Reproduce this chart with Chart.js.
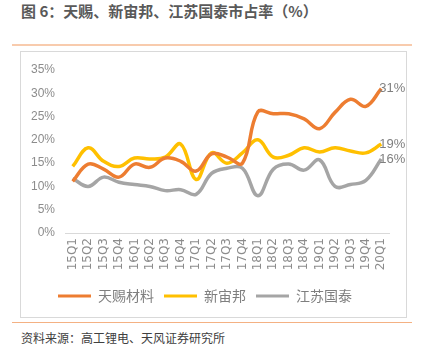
<!DOCTYPE html>
<html><head><meta charset="utf-8">
<script src="https://cdn.jsdelivr.net/npm/chart.js@4.4.1/dist/chart.umd.min.js"></script>
<style>
html,body{margin:0;padding:0;background:#fff;width:426px;height:353px;overflow:hidden;font-family:"Noto Sans CJK SC","Noto Sans",sans-serif;}
#title{position:absolute;left:21px;top:0px;font-size:15px;color:#595959;font-weight:bold;line-height:22px;}
#topline{position:absolute;left:12px;top:44px;width:400px;height:2px;background:#f8cbad;}
#box{position:absolute;left:20px;top:51px;width:385px;height:265px;border:1px solid #d9d9d9;}
#botline{position:absolute;left:12px;top:322px;width:400px;height:1px;background:#f4b183;}
#src{position:absolute;left:21px;top:329px;font-size:12px;color:#404040;line-height:18px;}
</style></head><body>
<div id="title">图 6：天赐、新宙邦、江苏国泰市占率（%）</div>
<div id="topline"></div>
<div id="box"><canvas id="c" width="385" height="265"></canvas></div>
<div id="botline"></div>
<div id="src">资料来源：高工锂电、天风证券研究所</div>
<script>
const categories = ["15Q1","15Q2","15Q3","15Q4","16Q1","16Q2","16Q3","16Q4","17Q1","17Q2","17Q3","17Q4","18Q1","18Q2","18Q3","18Q4","19Q1","19Q2","19Q3","19Q4","20Q1"];
const tinci = [11.1,14.8,13.7,12.0,14.8,14.1,16.1,15.4,13.3,17.0,16.3,15.0,26.0,25.6,25.6,24.5,22.4,25.9,28.7,27.2,31.0];
const capchem = [14.3,18.3,15.4,14.3,16.1,15.9,16.3,19.1,11.5,17.2,15.0,17.2,20.0,16.3,16.7,18.3,17.4,18.3,17.6,17.2,19.1];
const guotai = [11.7,10.0,12.0,10.9,10.4,10.0,9.1,9.3,8.3,12.8,13.9,13.9,8.0,13.7,14.8,13.5,15.7,10.0,10.4,11.3,15.9];
const seriesNames = ["天赐材料","新宙邦","江苏国泰"];
const colors = ["#ED7D31","#FFC000","#A5A5A5"];
const yTicks = [0,5,10,15,20,25,30,35];

const endLabels = {
  id:'endLabels',
  afterDatasetsDraw(chart){
    const ctx = chart.ctx;
    ctx.save();
    ctx.font = '13px "Liberation Sans", "Noto Sans", sans-serif';
    ctx.fillStyle = '#7f7f7f';
    ctx.textAlign = 'left';
    ctx.textBaseline = 'middle';
    chart.data.datasets.forEach((ds,i)=>{
      const meta = chart.getDatasetMeta(i);
      const last = meta.data[meta.data.length-1];
      const v = ds.data[ds.data.length-1];
      ctx.fillText(Math.round(v)+'%', last.x-2, last.y);
    });
    ctx.restore();
  }
};

new Chart(document.getElementById('c'), {
  type:'line',
  data:{
    labels: categories,
    datasets: [tinci,capchem,guotai].map((d,i)=>({
      label: seriesNames[i], data: d, borderColor: colors[i], backgroundColor: colors[i],
      borderWidth: 3.5, pointRadius: 0, tension: 0.4, fill:false
    }))
  },
  options:{
    responsive:false, animation:false,
    layout:{padding:{left:0,right:17,top:18,bottom:4}},
    plugins:{
      legend:{position:'bottom', labels:{boxWidth:33, boxHeight:3, font:{size:14, family:'"Noto Sans CJK SC", sans-serif'}, color:'#7f7f7f', padding:10,
        generateLabels(chart){ return chart.data.datasets.map((ds,i)=>({text:ds.label, fillStyle:ds.borderColor, strokeStyle:ds.borderColor, lineWidth:0, datasetIndex:i, fontColor:'#7f7f7f'})); }}},
      tooltip:{enabled:false}
    },
    scales:{
      x:{
        offset:true,
        grid:{display:false, drawTicks:false},
        border:{display:true,color:'#d9d9d9',width:1},
        ticks:{minRotation:90,maxRotation:90,autoSkip:false,color:'#8c8c8c',font:{size:12,family:'"DejaVu Sans", sans-serif'},padding:5},
        afterFit(s){ s.height = 46; }
      },
      y:{
        min:0,max:35,
        afterBuildTicks(s){ s.ticks = yTicks.map(v=>({value:v})); },
        grid:{display:false, drawTicks:false},
        border:{display:false},
        ticks:{color:'#8c8c8c',font:{size:12,family:'"Liberation Sans", sans-serif'},padding:10,callback:v=>v+'%'},
        afterFit(s){ s.width = 44; }
      }
    }
  },
  plugins:[endLabels]
});
</script>
</body></html>
